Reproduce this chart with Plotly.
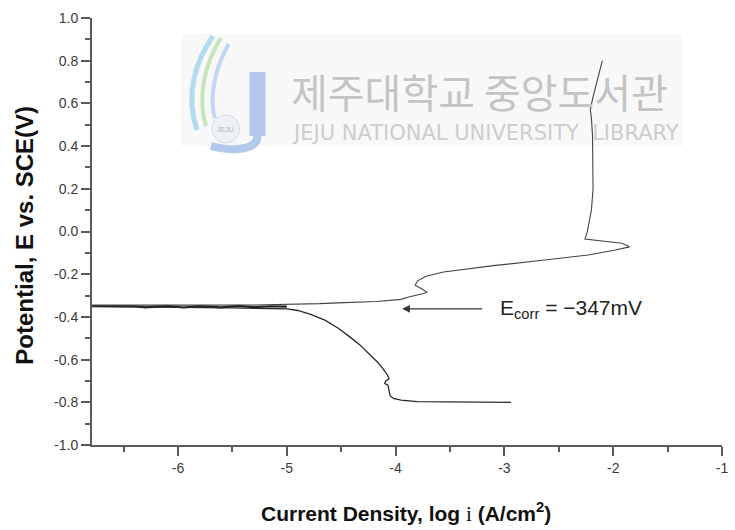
import plotly.graph_objects as go

# ---------------- data ----------------
# cathodic branch: scan starts at -0.8 V and runs toward Ecorr
cath_x = [-2.94, -3.40, -3.80, -3.95, -4.02, -4.05, -4.06, -4.07, -4.10, -4.09, -4.06,
          -4.075, -4.12, -4.17, -4.25, -4.33, -4.43, -4.53, -4.65, -4.78, -4.90, -5.00,
          -5.50, -6.00, -6.50, -6.79]
cath_y = [-0.800, -0.800, -0.797, -0.790, -0.782, -0.770, -0.745, -0.720, -0.712, -0.700, -0.690,
          -0.672, -0.640, -0.610, -0.570, -0.530, -0.490, -0.452, -0.415, -0.388, -0.370, -0.362,
          -0.358, -0.356, -0.354, -0.352]

# noisy region around Ecorr
band_x = [-6.79, -6.40, -6.30, -6.10, -5.95, -5.80, -5.60, -5.45, -5.30, -5.15, -5.00]
band_y = [-0.349, -0.350, -0.355, -0.348, -0.356, -0.349, -0.355, -0.348, -0.354, -0.350, -0.352]

# anodic branch: from Ecorr up to +0.8 V
anod_x = [-6.79, -6.30, -5.80, -5.30, -5.00, -4.70, -4.47, -4.17, -3.95, -3.87, -3.75,
          -3.71, -3.76, -3.82, -3.80, -3.72, -3.56, -3.30, -3.10, -2.65, -2.23, -1.99,
          -1.85, -1.92, -2.14, -2.26, -2.24, -2.20, -2.185, -2.185, -2.19, -2.20, -2.21,
          -2.19, -2.16, -2.10]
anod_y = [-0.345, -0.346, -0.345, -0.344, -0.342, -0.338, -0.333, -0.328, -0.318, -0.306, -0.292,
          -0.285, -0.268, -0.252, -0.232, -0.210, -0.190, -0.172, -0.160, -0.135, -0.110, -0.088,
          -0.072, -0.055, -0.040, -0.035, -0.005, 0.100, 0.200, 0.340, 0.450, 0.530, 0.570,
          0.620, 0.680, 0.800]

ecorr_v = -0.347
ecorr_label = "E<sub>corr</sub> = \u2212347mV"

x_ticks = [-6, -5, -4, -3, -2, -1]
x_tick_text = ["-6", "-5", "-4", "-3", "-2", "-1"]
y_ticks = [-1.0, -0.8, -0.6, -0.4, -0.2, 0.0, 0.2, 0.4, 0.6, 0.8, 1.0]
y_tick_text = ["-1.0", "-0.8", "-0.6", "-0.4", "-0.2", "0.0", "0.2", "0.4", "0.6", "0.8", "1.0"]

x_title = "Current Density, log <span style=\"font-family:'Liberation Serif';font-weight:normal\">i</span> (A/cm<sup>2</sup>)"
y_title = "Potential, E vs. SCE(V)"
wm_ko = "제주대학교 중앙도서관"
wm_en = "JEJU NATIONAL UNIVERSITY&nbsp;&nbsp;LIBRARY"

# ---------------- layout geometry ----------------
W, H = 735, 530
L, R, T, B = 92, 7, 18, 85
PW, PH = W - L - R, H - T - B


def px(x):
    return (x - L) / PW


def py(y):
    return (H - B - y) / PH


FONT = "Arial, 'Liberation Sans', sans-serif"
LINE = "#2a2a2a"

fig = go.Figure()
fig.add_trace(go.Scatter(x=band_x, y=band_y, mode="lines",
                         line=dict(color="#222222", width=2.2), hoverinfo="skip"))
fig.add_trace(go.Scatter(x=cath_x, y=cath_y, mode="lines",
                         line=dict(color=LINE, width=1.3)))
fig.add_trace(go.Scatter(x=anod_x, y=anod_y, mode="lines",
                         line=dict(color="#444444", width=1.1)))

# ---------------- watermark ----------------
shapes = [
    dict(type="rect", xref="paper", yref="paper", x0=px(182), x1=px(688), y0=py(146), y1=py(34),
         fillcolor="#f8f8f8", line=dict(width=0), layer="below"),
]


def path(pts):
    s = "M {} {}".format(px(pts[0][0]), py(pts[0][1]))
    rest = pts[1:]
    for i in range(0, len(rest), 3):
        a, b, c = rest[i:i + 3]
        s += " C {} {} {} {} {} {}".format(px(a[0]), py(a[1]), px(b[0]), py(b[1]), px(c[0]), py(c[1]))
    return s


logo_strokes = [
    ([(214, 36), (196, 62), (186, 95), (198, 130)], "#b3dbef", 5),
    ([(222, 38), (206, 64), (198, 96), (207, 126)], "#c8e4ba", 4),
    ([(230, 44), (216, 68), (210, 98), (216, 118)], "#c3d5f0", 4),
    ([(259, 72), (259, 100), (259, 125), (259, 136)], "#b3c8ea", 16),
    ([(259, 136), (259, 150), (235, 152), (212, 146)], "#b3c8ea", 8),
]
for pts, col, w in logo_strokes:
    shapes.append(dict(type="path", xref="paper", yref="paper", path=path(pts),
                       line=dict(color=col, width=w), layer="below"))
shapes.append(dict(type="circle", xref="paper", yref="paper",
                   x0=px(213), x1=px(241), y0=py(143), y1=py(115),
                   fillcolor="#eef1f6", line=dict(color="#d5dbe6", width=1), layer="below"))

annotations = [
    dict(xref="paper", yref="paper", x=px(227), y=py(129), xanchor="center", yanchor="middle",
         text="JEJU", showarrow=False,
         font=dict(family=FONT, size=7, color="#b0b4bc")),
    dict(xref="paper", yref="paper", x=px(291), y=py(91), xanchor="left", yanchor="middle",
         text=wm_ko, showarrow=False,
         font=dict(family="'Noto Sans CJK KR', sans-serif", size=40, color="#c4c4c4")),
    dict(xref="paper", yref="paper", x=px(292), y=py(133), xanchor="left", yanchor="middle",
         text=wm_en, showarrow=False,
         font=dict(family="'DejaVu Sans', sans-serif", size=21, color="#cdcdcd")),
    # Ecorr arrow
    dict(x=-3.94, y=ecorr_v - 0.015, ax=-3.19, ay=ecorr_v - 0.015, axref="x", ayref="y",
         xref="x", yref="y", text="", showarrow=True, arrowhead=2, arrowsize=1.3,
         arrowwidth=1.2, arrowcolor="#333333"),
    dict(x=-3.06, y=ecorr_v - 0.015, xref="x", yref="y", xanchor="left", yanchor="middle",
         text=ecorr_label, showarrow=False, font=dict(family=FONT, size=21, color="#222222")),
    # axis titles
    dict(xref="paper", yref="paper", x=px(23), y=py(235), xanchor="center", yanchor="middle",
         textangle=-90, text="<b>" + y_title + "</b>", showarrow=False,
         font=dict(family=FONT, size=24, color="#111111")),
    dict(xref="paper", yref="paper", x=px(409), y=py(512), xanchor="center", yanchor="middle",
         text="<b>" + x_title + "</b>", showarrow=False,
         font=dict(family=FONT, size=21, color="#111111")),
]

axis_common = dict(showgrid=False, zeroline=False, showline=True, linecolor="#5a5a5a",
                   linewidth=2, ticks="outside", tickcolor="#5a5a5a", tickwidth=2,
                   ticklen=9, tickfont=dict(family=FONT, size=14, color="#3a3a3a"),
                   mirror=False)

fig.update_layout(
    width=W, height=H, margin=dict(l=L, r=R, t=T, b=B),
    paper_bgcolor="white", plot_bgcolor="white", showlegend=False,
    shapes=shapes, annotations=annotations,
    xaxis=dict(range=[-6.79, -1], tickvals=x_ticks, ticktext=x_tick_text,
               minor=dict(dtick=0.5, tick0=-1, ticks="outside", ticklen=5,
                          tickcolor="#5a5a5a", tickwidth=2),
               **axis_common),
    yaxis=dict(range=[-1, 1], tickvals=y_ticks, ticktext=y_tick_text,
               minor=dict(dtick=0.1, tick0=0, ticks="outside", ticklen=5,
                          tickcolor="#5a5a5a", tickwidth=2),
               **axis_common),
)

fig.write_html("out.html")
